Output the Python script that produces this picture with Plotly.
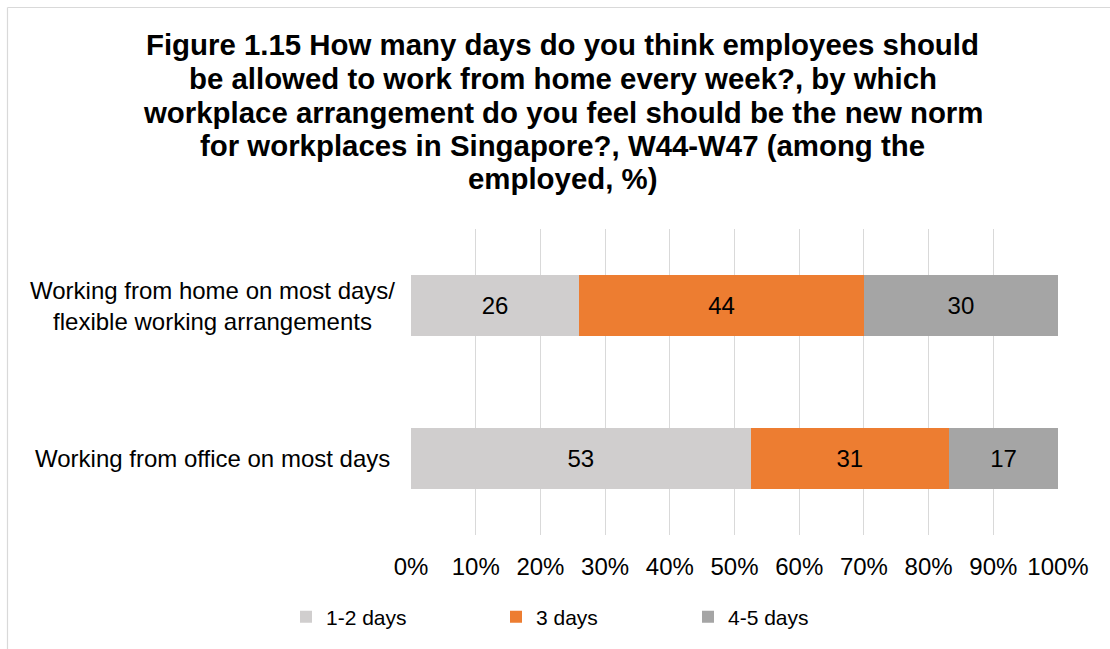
import plotly.graph_objects as go

# Workplace arrangement felt to be the new norm (rows) and the
# number of work-from-home days per week respondents favour (segments)
categories = [
    "Working from home on most days/<br>flexible working arrangements",
    "Working from office on most days",
]
days_1_2 = [26, 53]
days_3 = [44, 31]
days_4_5 = [30, 17]

series_names = ["1-2 days", "3 days", "4-5 days"]
series_colors = ["#d0cece", "#ed7d31", "#a5a5a5"]

x_ticks = list(range(0, 101, 10))
x_tick_labels = [f"{v}%" for v in x_ticks]

title_lines = [
    "Figure 1.15 How many days do you think employees should",
    "be allowed to work from home every week?, by which",
    "workplace arrangement do you feel should be the new norm",
    "for workplaces in Singapore?, W44-W47 (among the",
    "employed, %)",
]

FONT = "Liberation Sans, Arial, sans-serif"
W, H = 1110, 649
PLOT_L, PLOT_R, PLOT_T, PLOT_B = 411, 1058, 229, 535


def px_x(x):
    """Figure pixel column -> paper x."""
    return (x - PLOT_L) / (PLOT_R - PLOT_L)


def px_y(y):
    """Figure pixel row -> paper y."""
    return (PLOT_B - y) / (PLOT_B - PLOT_T)


fig = go.Figure()
legend_ids = ["legend", "legend2", "legend3"]
for name, vals, color, lg in zip(series_names, [days_1_2, days_3, days_4_5],
                                 series_colors, legend_ids):
    fig.add_trace(go.Bar(
        y=categories,
        x=vals,
        name=name,
        orientation="h",
        marker=dict(color=color, line=dict(width=0)),
        text=[str(v) for v in vals],
        textposition="inside",
        insidetextanchor="middle",
        textangle=0,
        constraintext="none",
        textfont=dict(family=FONT, size=24, color="#000000"),
        legend=lg,
    ))

annotations = []
# chart title, one line per annotation
title_centres = [45, 78.5, 112, 145.5, 179]
for line, yc in zip(title_lines, title_centres):
    annotations.append(dict(
        text=f"<b>{line}</b>", xref="paper", yref="paper",
        x=px_x(562.5), y=px_y(yc), xanchor="center", yanchor="middle",
        showarrow=False, font=dict(family=FONT, size=29.4, color="#000000"),
    ))

# category labels, centred in the label column
for cat in categories:
    annotations.append(dict(
        text=cat, xref="paper", yref="y", x=px_x(212), y=cat,
        xanchor="center", yanchor="middle", align="center",
        showarrow=False, font=dict(family=FONT, size=24, color="#000000"),
    ))

legend_common = dict(
    orientation="h", yanchor="middle", xanchor="left",
    font=dict(family=FONT, size=21, color="#000000"),
    bgcolor="rgba(0,0,0,0)", borderwidth=0,
)
legend_text_x = [327, 537, 729]

fig.update_layout(
    width=W, height=H,
    margin=dict(l=PLOT_L, r=W - PLOT_R, t=PLOT_T, b=H - PLOT_B, pad=0),
    paper_bgcolor="#ffffff", plot_bgcolor="#ffffff",
    barmode="stack", barnorm="percent", bargap=0.6,
    font=dict(family=FONT, size=24, color="#000000"),
    showlegend=True,
    legend=dict(legend_common, x=px_x(legend_text_x[0] - 41), y=px_y(617)),
    legend2=dict(legend_common, x=px_x(legend_text_x[1] - 41), y=px_y(617)),
    legend3=dict(legend_common, x=px_x(legend_text_x[2] - 41), y=px_y(617)),
    xaxis=dict(
        range=[0, 100], tickmode="array", tickvals=x_ticks,
        ticktext=x_tick_labels, ticks="", ticklabelstandoff=15,
        showgrid=True, gridcolor="#d9d9d9", gridwidth=1.3,
        zeroline=False, showline=False, fixedrange=True,
        tickfont=dict(family=FONT, size=24, color="#000000"),
    ),
    yaxis=dict(
        categoryorder="array", categoryarray=categories, autorange="reversed",
        showticklabels=False, ticks="", showgrid=False, zeroline=False,
        showline=False,
    ),
    annotations=annotations,
    shapes=[
        # outer chart frame (left and top edges)
        dict(type="line", xref="paper", yref="paper",
             x0=px_x(7.5), x1=px_x(W + 5), y0=px_y(7.5), y1=px_y(7.5),
             line=dict(color="#d9d9d9", width=1.2)),
        dict(type="line", xref="paper", yref="paper",
             x0=px_x(7.5), x1=px_x(7.5), y0=px_y(7.5), y1=px_y(H + 5),
             line=dict(color="#d9d9d9", width=1.2)),
    ],
)

fig.write_html("out.html")
